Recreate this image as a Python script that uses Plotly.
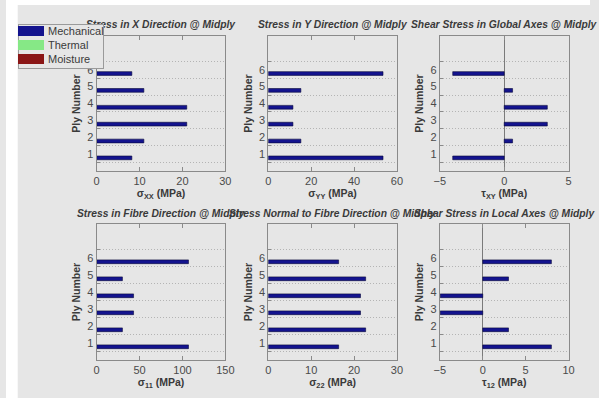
import plotly.graph_objects as go

# ---- data: laminate ply stresses at mid-ply (MPa) ----
plies = [1, 2, 3, 4, 5, 6]
series_names = ["Mechanical", "Thermal", "Moisture"]

sigma_xx = [8.2, 11.0, 21.0, 21.0, 11.0, 8.2]
sigma_yy = [53.5, 15.2, 11.5, 11.5, 15.2, 53.5]
tau_xy = [-4.0, 0.65, 3.35, 3.35, 0.65, -4.0]
sigma_11 = [107.0, 30.0, 43.0, 43.0, 30.0, 107.0]
sigma_22 = [16.4, 22.7, 21.5, 21.5, 22.7, 16.4]
tau_12 = [8.0, 3.0, -4.95, -4.95, 3.0, 8.0]
zeros = [0, 0, 0, 0, 0, 0]

panel_titles = [
    "Stress in X Direction @ Midply",
    "Stress in Y Direction @ Midply",
    "Shear Stress in Global Axes @ Midply",
    "Stress in Fibre Direction @ Midply",
    "Stress Normal to Fibre Direction @ Midply",
    "Shear Stress in Local Axes @ Midply",
]
x_titles = [
    "σ<sub>XX</sub> (MPa)",
    "σ<sub>YY</sub> (MPa)",
    "τ<sub>XY</sub> (MPa)",
    "σ<sub>11</sub> (MPa)",
    "σ<sub>22</sub> (MPa)",
    "τ<sub>12</sub> (MPa)",
]
x_ranges = [[0, 30], [0, 60], [-5, 5], [0, 150], [0, 30], [-5, 10]]
x_ticks = [[0, 10, 20, 30], [0, 20, 40, 60], [-5, 0, 5],
           [0, 50, 100, 150], [0, 10, 20, 30], [-5, 0, 5, 10]]
mech_values = [sigma_xx, sigma_yy, tau_xy, sigma_11, sigma_22, tau_12]

colors = ["#13138e", "#86e886", "#8a1616"]

# ---- layout geometry (pixels) ----
W, H = 599, 398
BG = "#e6e6e6"
AXC = "#8a8a8a"
TXT = "#3a3a3a"
FONT = "Liberation Sans, Arial, sans-serif"

col_px = [(93, 225), (269, 401), (445, 577)]
row_px = [(36, 171), (224, 360)]


def px_x(p):
    return p / W


def px_y(p):
    return 1 - p / H


fig = go.Figure()
layout = {}
annotations = []

for i in range(6):
    r, c = divmod(i, 3)
    n = i + 1
    xa = "x" if n == 1 else f"x{n}"
    ya = "y" if n == 1 else f"y{n}"
    series = [mech_values[i], zeros, zeros]
    for s, name in enumerate(series_names):
        fig.add_trace(go.Bar(
            x=series[s], y=plies, orientation="h", name=name,
            xaxis=xa, yaxis=ya, showlegend=False,
            marker=dict(color=colors[s],
                        line=dict(color="#08083a" if s == 0 else colors[s],
                                  width=0.6 if s == 0 else 0)),
            hoverinfo="skip",
        ))
    x0, x1 = col_px[c]
    y0, y1 = row_px[r]
    layout["xaxis" if n == 1 else f"xaxis{n}"] = dict(
        domain=[px_x(x0), px_x(x1)], anchor=ya, range=x_ranges[i],
        tickmode="array", tickvals=x_ticks[i],
        ticks="inside", ticklen=4, tickcolor=AXC,
        showline=True, linecolor=AXC, linewidth=1, mirror="ticks",
        showgrid=False,
        zeroline=x_ranges[i][0] < 0, zerolinecolor="#7a7a7a", zerolinewidth=1,
        tickfont=dict(family=FONT, size=11, color="#4a4a4a"),
        title=dict(text="<b>" + x_titles[i] + "</b>", standoff=3,
                   font=dict(family=FONT, size=10.5, color=TXT)),
        fixedrange=True,
    )
    layout["yaxis" if n == 1 else f"yaxis{n}"] = dict(
        domain=[px_y(y1), px_y(y0)], anchor=xa, range=[0, 8],
        tickmode="array", tickvals=plies, ticks="",
        showline=True, linecolor=AXC, linewidth=1, mirror=True,
        showgrid=False, zeroline=False,
        minor=dict(tickmode="array", tickvals=[0.5, 1.5, 2.5, 3.5, 4.5, 5.5, 6.5],
                   ticks="inside", ticklen=3, tickcolor=AXC,
                   showgrid=True, gridcolor="#b4b4b4", griddash="1px,2px", gridwidth=1),
        tickfont=dict(family=FONT, size=11, color="#4a4a4a"),
        title=dict(text="<b>Ply Number</b>", standoff=4,
                   font=dict(family=FONT, size=10.5, color=TXT)),
        fixedrange=True,
    )
    title_y = 24 if r == 0 else 213
    annotations.append(dict(
        text="<b><i>" + panel_titles[i] + "</i></b>",
        x=px_x((x0 + x1) / 2), y=px_y(title_y), xref="paper", yref="paper",
        xanchor="center", yanchor="middle", showarrow=False,
        font=dict(family=FONT, size=10.3, color=TXT),
    ))

# ---- legend: box, swatches and labels as annotations (drawn over the titles) ----
annotations.append(dict(
    text="", x=px_x(12), y=px_y(24), xref="paper", yref="paper",
    xanchor="left", yanchor="top", showarrow=False,
    width=84, height=43, bgcolor=BG, bordercolor="#9a9a9a", borderwidth=1, borderpad=0,
))
swatch_rows = [(26, 36), (40, 50), (54, 64)]
for s, name in enumerate(series_names):
    t, b = swatch_rows[s]
    annotations.append(dict(
        text="", x=px_x(12), y=px_y(t), xref="paper", yref="paper",
        xanchor="left", yanchor="top", showarrow=False,
        width=26, height=b - t, bgcolor=colors[s], borderpad=0, borderwidth=0,
    ))
    annotations.append(dict(
        text=name, x=px_x(41), y=px_y((t + b) / 2), xref="paper", yref="paper",
        xanchor="left", yanchor="middle", showarrow=False,
        font=dict(family=FONT, size=11, color=TXT),
    ))

# white page margins around the figure window
shapes = [
    dict(type="rect", xref="paper", yref="paper", x0=0, x1=px_x(12),
         y0=0, y1=1, fillcolor="white", line=dict(width=0), layer="above"),
    dict(type="rect", xref="paper", yref="paper", x0=0, x1=1,
         y0=px_y(5), y1=1, fillcolor="white", line=dict(width=0), layer="above"),
]

fig.update_layout(
    width=W, height=H, margin=dict(l=0, r=0, t=0, b=0),
    paper_bgcolor=BG, plot_bgcolor=BG,
    barmode="group", bargap=0.333, bargroupgap=0.0,
    showlegend=False, shapes=shapes, annotations=annotations,
    font=dict(family=FONT),
    **layout,
)

fig.write_html("out.html")
